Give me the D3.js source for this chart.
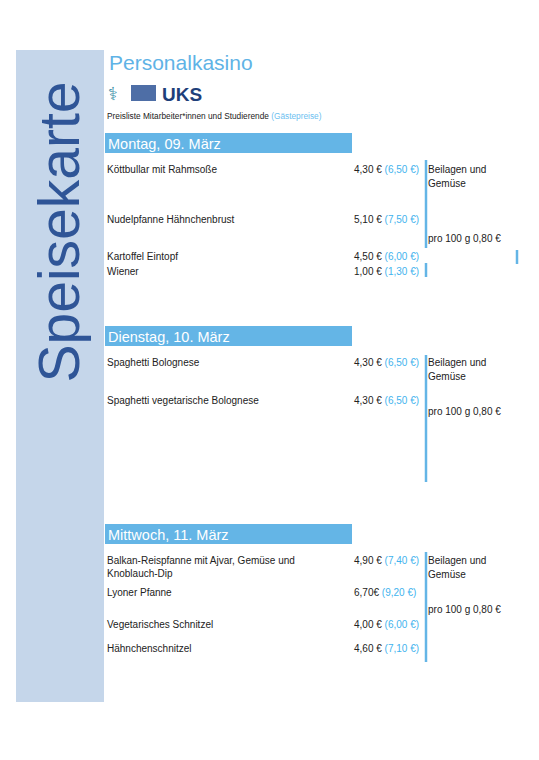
<!DOCTYPE html><html><head><meta charset="utf-8"><script src="https://cdn.jsdelivr.net/npm/d3@7"></script>
<style>body{margin:0;background:#fff}svg{font-family:"Liberation Sans",Arial,sans-serif}</style></head><body><script>
const days=["Montag, 09. März","Dienstag, 10. März","Mittwoch, 11. März"];
const dishes=[
 [["Köttbullar mit Rahmsoße"],["Nudelpfanne Hähnchenbrust"],["Kartoffel Eintopf"],["Wiener"]],
 [["Spaghetti Bolognese"],["Spaghetti vegetarische Bolognese"]],
 [["Balkan-Reispfanne mit Ajvar, Gemüse und","Knoblauch-Dip"],["Lyoner Pfanne"],["Vegetarisches Schnitzel"],["Hähnchenschnitzel"]]];
const prices=[["4,30 €","5,10 €","4,50 €","1,00 €"],["4,30 €","4,30 €"],["4,90 €","6,70€","4,00 €","4,60 €"]];
const guest=[["(6,50 €)","(7,50 €)","(6,00 €)","(1,30 €)"],["(6,50 €)","(6,50 €)"],["(7,40 €)","(9,20 €)","(6,00 €)","(7,10 €)"]];
const rowY=[[169,219,256,271],[362,400],[560,592,624,648]];
const headerY=[133,326,524];
const sideNote=["Beilagen und","Gemüse"], sideNote2="pro 100 g 0,80 €";
const lines=[[[426,160,248],[426,263,277],[517,250,264]],[[426,355,482]],[[426,552,662]]];
const W=539,H=760;
const svg=d3.select("body").append("svg").attr("width",W).attr("height",H);
const x=d3.scaleLinear().domain([0,W]).range([0,W]);
svg.append("rect").attr("x",16).attr("y",50).attr("width",88).attr("height",652).attr("fill","#c5d6ea");
svg.append("text").attr("transform","translate(79,232) rotate(-90)").attr("text-anchor","middle").attr("font-size",57).attr("fill","#2f5597").text("Speisekarte");
svg.append("text").attr("x",109).attr("y",70).attr("font-size",21).attr("fill","#5fb3e6").text("Personalkasino");
const lg=svg.append("g");
lg.append("text").attr("x",108).attr("y",100).attr("font-size",18).attr("fill","#3a8fa8").text("⚕");
lg.append("rect").attr("x",131).attr("y",85).attr("width",25).attr("height",16).attr("fill","#2f5597").attr("opacity",.85);
lg.append("text").attr("x",162).attr("y",101).attr("font-size",19).attr("font-weight","bold").attr("fill","#1f3f7a").text("UKS");
const t=svg.append("text").attr("x",107).attr("y",119).attr("font-size",8.3).attr("fill","#222");
t.append("tspan").text("Preisliste Mitarbeiter*innen und Studierende ");
t.append("tspan").attr("fill","#6cc0f0").text("(Gästepreise)");
days.forEach((d,i)=>{
 const g=svg.append("g");
 g.append("rect").attr("x",105).attr("y",headerY[i]).attr("width",247).attr("height",20).attr("fill","#64b5e6");
 g.append("text").attr("x",108).attr("y",headerY[i]+16).attr("font-size",14.5).attr("fill","#fff").text(d);
 dishes[i].forEach((ls,j)=>{
  ls.forEach((l,k)=>g.append("text").attr("x",107).attr("y",rowY[i][j]+4+k*13).attr("font-size",10).attr("fill","#222").text(l));
  const p=g.append("text").attr("x",x(354)).attr("y",rowY[i][j]+4).attr("font-size",10).attr("fill","#222");
  p.append("tspan").text(prices[i][j]+" ");p.append("tspan").attr("fill","#3fb3ee").text(guest[i][j]);
 });
 const ny=rowY[i][0]+4;
 sideNote.forEach((s,k)=>g.append("text").attr("x",428).attr("y",ny+k*14).attr("font-size",10).attr("fill","#222").text(s));
 g.append("text").attr("x",428).attr("y",ny+69-(i==0?0:0)+(i==0?0:-20)).attr("font-size",10).attr("fill","#222").text(sideNote2);
 lines[i].forEach(l=>g.append("line").attr("x1",l[0]).attr("x2",l[0]).attr("y1",l[1]).attr("y2",l[2]).attr("stroke","#64b5e6").attr("stroke-width",2.5));
});
</script></body></html>
